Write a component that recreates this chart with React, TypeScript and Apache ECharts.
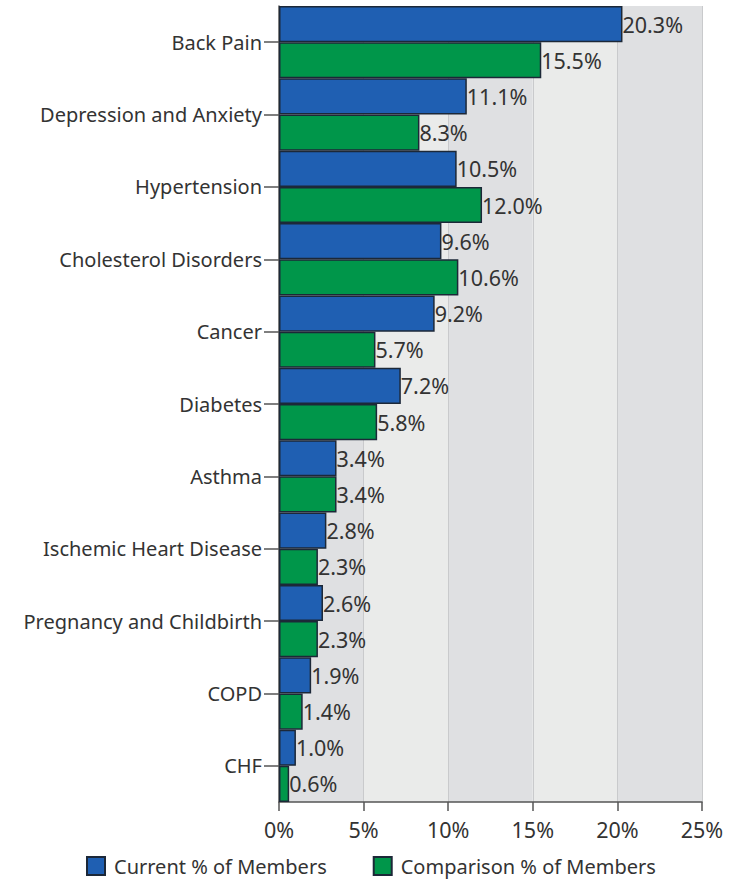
import React, { useEffect, useRef } from "react";
import * as echarts from "echarts";

const categories = [
  "Back Pain",
  "Depression and Anxiety",
  "Hypertension",
  "Cholesterol Disorders",
  "Cancer",
  "Diabetes",
  "Asthma",
  "Ischemic Heart Disease",
  "Pregnancy and Childbirth",
  "COPD",
  "CHF",
];
const currentValues = [20.3, 11.1, 10.5, 9.6, 9.2, 7.2, 3.4, 2.8, 2.6, 1.9, 1.0];
const comparisonValues = [15.5, 8.3, 12.0, 10.6, 5.7, 5.8, 3.4, 2.3, 2.3, 1.4, 0.6];
const seriesNames = ["Current % of Members", "Comparison % of Members"];

const FONT = "Noto Sans";

export default function App() {
  const ref = useRef<HTMLDivElement>(null);
  useEffect(() => {
    if (!ref.current) return;
    const chart = echarts.init(ref.current, undefined, { renderer: "svg" });
    const label = {
      show: true,
      position: "right",
      distance: 0,
      color: "#333",
      fontFamily: FONT,
      fontSize: 21.5,
      formatter: (p: any) => p.value.toFixed(1) + "%",
    };
    chart.setOption({
      animation: false,
      grid: { left: 279, right: 38, top: 6, bottom: 79, containLabel: false },
      legend: {
        bottom: 0,
        left: 81,
        itemWidth: 18,
        itemHeight: 18,
        itemGap: 46,
        icon: "rect",
        textStyle: { fontFamily: FONT, fontSize: 20, color: "#333", padding: [0, 0, 0, 4] },
        data: seriesNames,
      },
      xAxis: {
        type: "value",
        min: 0,
        max: 25,
        interval: 5,
        axisLine: { show: true, lineStyle: { color: "#555", width: 1.5 } },
        axisTick: { show: true, length: 9, lineStyle: { color: "#555", width: 1.5 } },
        axisLabel: {
          formatter: "{value}%",
          fontFamily: FONT,
          fontSize: 21.5,
          color: "#333",
          margin: 16,
        },
        splitLine: { show: true, lineStyle: { color: "#c9cacc", width: 1 } },
        splitArea: { show: true, areaStyle: { color: ["#dfe0e2", "#eaebea"] } },
      },
      yAxis: {
        type: "category",
        data: categories,
        inverse: true,
        axisLine: { show: true, lineStyle: { color: "#555", width: 1.5 } },
        axisTick: { show: true, alignWithLabel: true, length: 15, lineStyle: { color: "#555", width: 1.5 } },
        axisLabel: { fontFamily: FONT, fontSize: 20, color: "#333", margin: 17 },
      },
      series: [
        {
          name: seriesNames[0],
          type: "bar",
          data: currentValues,
          barGap: "0%",
          barCategoryGap: "0%",
          itemStyle: { color: "#1f5fb2", borderColor: "#1c2838", borderWidth: 1.5 },
          label,
        },
        {
          name: seriesNames[1],
          type: "bar",
          data: comparisonValues,
          barGap: "0%",
          barCategoryGap: "0%",
          itemStyle: { color: "#00964a", borderColor: "#1c2838", borderWidth: 1.5 },
          label,
        },
      ],
    });
    return () => chart.dispose();
  }, []);
  return <div ref={ref} style={{ width: 740, height: 881, position: "absolute", left: 0, top: 0 }} />;
}
